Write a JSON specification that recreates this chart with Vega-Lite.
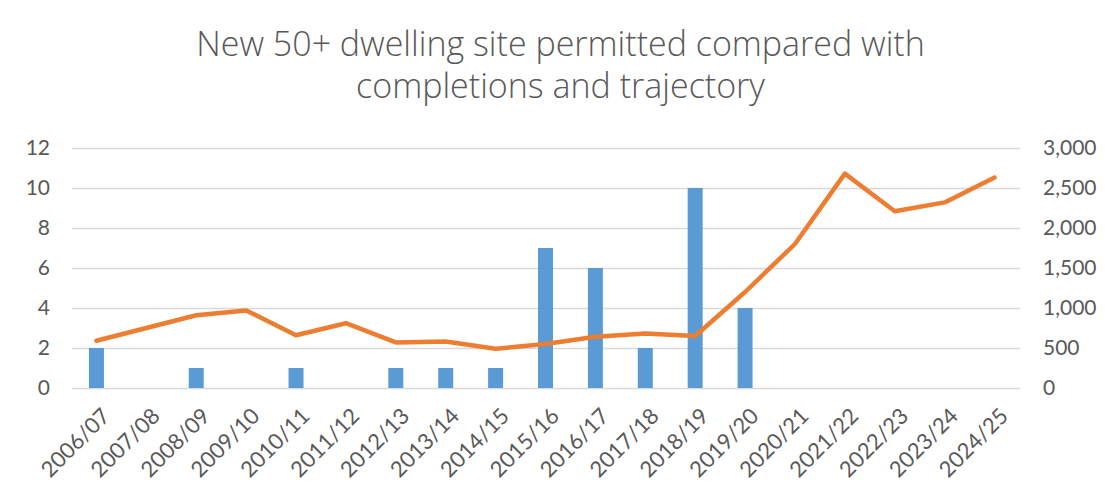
{
  "$schema": "https://vega.github.io/schema/vega-lite/v6.json",
  "autosize": {"type": "none"},
  "width": 948,
  "height": 240,
  "padding": {"left": 71.5, "top": 148, "right": 85.5, "bottom": 109},
  "background": "white",
  "title": {
    "text": ["New 50+ dwelling site permitted compared with", "completions and trajectory"],
    "font": "Open Sans",
    "fontSize": 34,
    "fontWeight": 300,
    "color": "#595959",
    "lineHeight": 42,
    "baseline": "alphabetic",
    "anchor": "middle",
    "frame": "group",
    "dx": 15,
    "offset": 5
  },
  "config": {
    "view": {"stroke": null},
    "axis": {
      "labelFont": "Lato",
      "labelFontSize": 21,
      "labelColor": "#595959",
      "ticks": false,
      "domain": false,
      "title": null
    }
  },
  "data": {
    "values": [
      {"year": "2006/07", "permits": 2, "completions": 590},
      {"year": "2007/08", "permits": null, "completions": 750},
      {"year": "2008/09", "permits": 1, "completions": 910},
      {"year": "2009/10", "permits": null, "completions": 970},
      {"year": "2010/11", "permits": 1, "completions": 660},
      {"year": "2011/12", "permits": null, "completions": 810},
      {"year": "2012/13", "permits": 1, "completions": 570},
      {"year": "2013/14", "permits": 1, "completions": 580},
      {"year": "2014/15", "permits": 1, "completions": 490},
      {"year": "2015/16", "permits": 7, "completions": 550},
      {"year": "2016/17", "permits": 6, "completions": 640},
      {"year": "2017/18", "permits": 2, "completions": 680},
      {"year": "2018/19", "permits": 10, "completions": 650},
      {"year": "2019/20", "permits": 4, "completions": 1200},
      {"year": "2020/21", "permits": null, "completions": 1800},
      {"year": "2021/22", "permits": null, "completions": 2680},
      {"year": "2022/23", "permits": null, "completions": 2210},
      {"year": "2023/24", "permits": null, "completions": 2320},
      {"year": "2024/25", "permits": null, "completions": 2630}
    ]
  },
  "encoding": {
    "x": {
      "field": "year",
      "type": "nominal",
      "sort": ["2006/07", "2007/08", "2008/09", "2009/10", "2010/11", "2011/12", "2012/13", "2013/14", "2014/15", "2015/16", "2016/17", "2017/18", "2018/19", "2019/20", "2020/21", "2021/22", "2022/23", "2023/24", "2024/25"],
      "scale": {"paddingInner": 0, "paddingOuter": 0},
      "axis": {
        "labelAngle": -45,
        "labelAlign": "right",
        "labelBaseline": "middle",
        "labelFontSize": 22,
        "labelPadding": 24,
        "labelOffset": 10,
        "grid": false
      }
    }
  },
  "layer": [
    {
      "mark": {"type": "bar", "color": "#5B9BD5", "size": 15},
      "encoding": {
        "y": {
          "field": "permits",
          "type": "quantitative",
          "scale": {"domain": [0, 12], "nice": false},
          "axis": {
            "values": [0, 2, 4, 6, 8, 10, 12],
            "grid": true,
            "gridColor": "#d9d9d9",
            "gridWidth": 1.5,
            "labelPadding": 22
          }
        }
      }
    },
    {
      "mark": {"type": "line", "color": "#ED7D31", "strokeWidth": 4.5, "strokeCap": "round", "strokeJoin": "round"},
      "encoding": {
        "y": {
          "field": "completions",
          "type": "quantitative",
          "scale": {"domain": [0, 3000], "nice": false},
          "axis": {
            "orient": "right",
            "values": [0, 500, 1000, 1500, 2000, 2500, 3000],
            "format": ",.0f",
            "grid": false,
            "labelPadding": 23
          }
        }
      }
    }
  ],
  "resolve": {"scale": {"y": "independent"}}
}
